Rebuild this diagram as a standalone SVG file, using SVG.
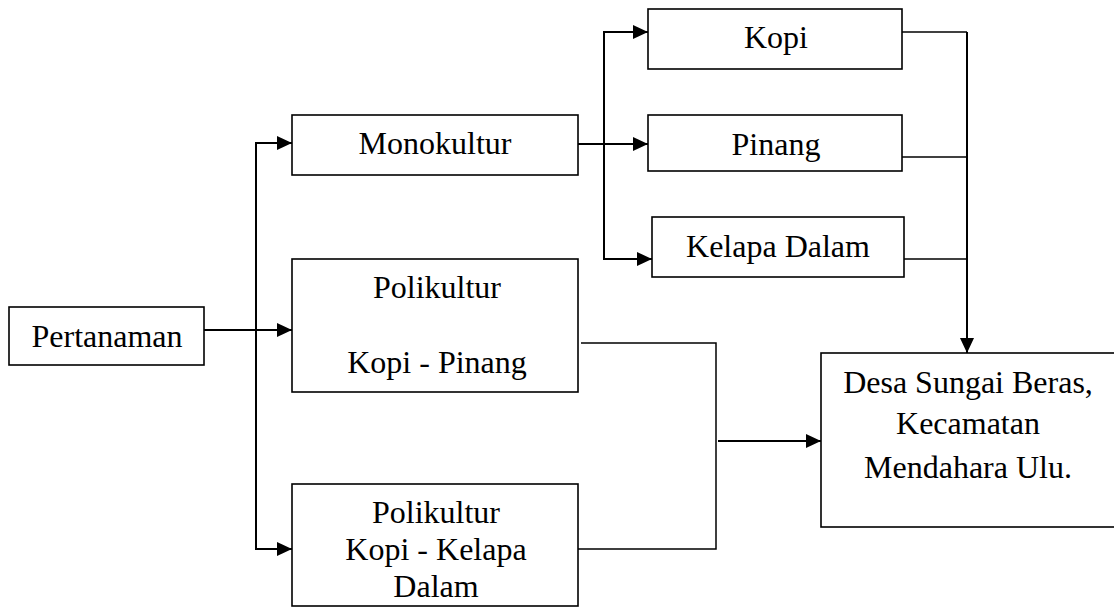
<svg xmlns="http://www.w3.org/2000/svg" width="1114" height="608" viewBox="0 0 1114 608">
<style>
.box{fill:#fff;stroke:#000;stroke-width:1.6}
.t{font-family:"Liberation Serif","Times New Roman",serif;font-size:32px;fill:#000;text-anchor:middle}
.c{fill:none;stroke:#000;stroke-width:1.5}
.a{fill:none;stroke:#000;stroke-width:2}
</style>
<defs>
<marker id="arr" markerUnits="userSpaceOnUse" markerWidth="15" markerHeight="14" refX="15" refY="7" orient="auto">
<path d="M0,0 L15,7 L0,14 z" fill="#000"/>
</marker>
</defs>
<rect width="1114" height="608" fill="#fff"/>
<g id="connectors">
<path class="a" d="M204,330 H292" marker-end="url(#arr)"/>
<path class="a" d="M256,330 V143 H292" marker-end="url(#arr)"/>
<path class="a" d="M256,330 V549 H292" marker-end="url(#arr)"/>
<path class="a" d="M578,144 H648" marker-end="url(#arr)"/>
<path class="a" d="M604,144 V32 H648" marker-end="url(#arr)"/>
<path class="a" d="M604,144 V259 H652" marker-end="url(#arr)"/>
<path class="c" d="M902,32 H967"/>
<path class="c" d="M902,157 H967"/>
<path class="c" d="M904,259 H967"/>
<path class="a" d="M967,32 V353" marker-end="url(#arr)"/>
<path class="c" d="M581,343 H716 V549 H578"/>
<path class="a" d="M718,441 H821" marker-end="url(#arr)"/>
</g>
<g id="pertanaman">
<rect class="box" x="9" y="307" width="195" height="58"/>
<text class="t" x="107" y="347">Pertanaman</text>
</g>
<g id="monokultur">
<rect class="box" x="292" y="115" width="286" height="60"/>
<text class="t" x="435" y="154">Monokultur</text>
</g>
<g id="polikultur-kopi-pinang">
<rect class="box" x="292" y="259" width="286" height="133"/>
<text class="t" x="437" y="298">Polikultur</text>
<text class="t" x="437" y="373">Kopi - Pinang</text>
</g>
<g id="polikultur-kopi-kelapa">
<rect class="box" x="292" y="484" width="286" height="122"/>
<text class="t" x="436" y="523">Polikultur</text>
<text class="t" x="436" y="560">Kopi - Kelapa</text>
<text class="t" x="436" y="597">Dalam</text>
</g>
<g id="kopi">
<rect class="box" x="648" y="9" width="254" height="60"/>
<text class="t" x="776" y="48">Kopi</text>
</g>
<g id="pinang">
<rect class="box" x="648" y="115" width="254" height="56"/>
<text class="t" x="776" y="155">Pinang</text>
</g>
<g id="kelapa-dalam">
<rect class="box" x="652" y="217" width="252" height="60"/>
<text class="t" x="778" y="257">Kelapa Dalam</text>
</g>
<g id="desa">
<rect class="box" x="821" y="353" width="300" height="174"/>
<text class="t" x="968" y="393">Desa Sungai Beras,</text>
<text class="t" x="968" y="434">Kecamatan</text>
<text class="t" x="968" y="478">Mendahara Ulu.</text>
</g>
</svg>
